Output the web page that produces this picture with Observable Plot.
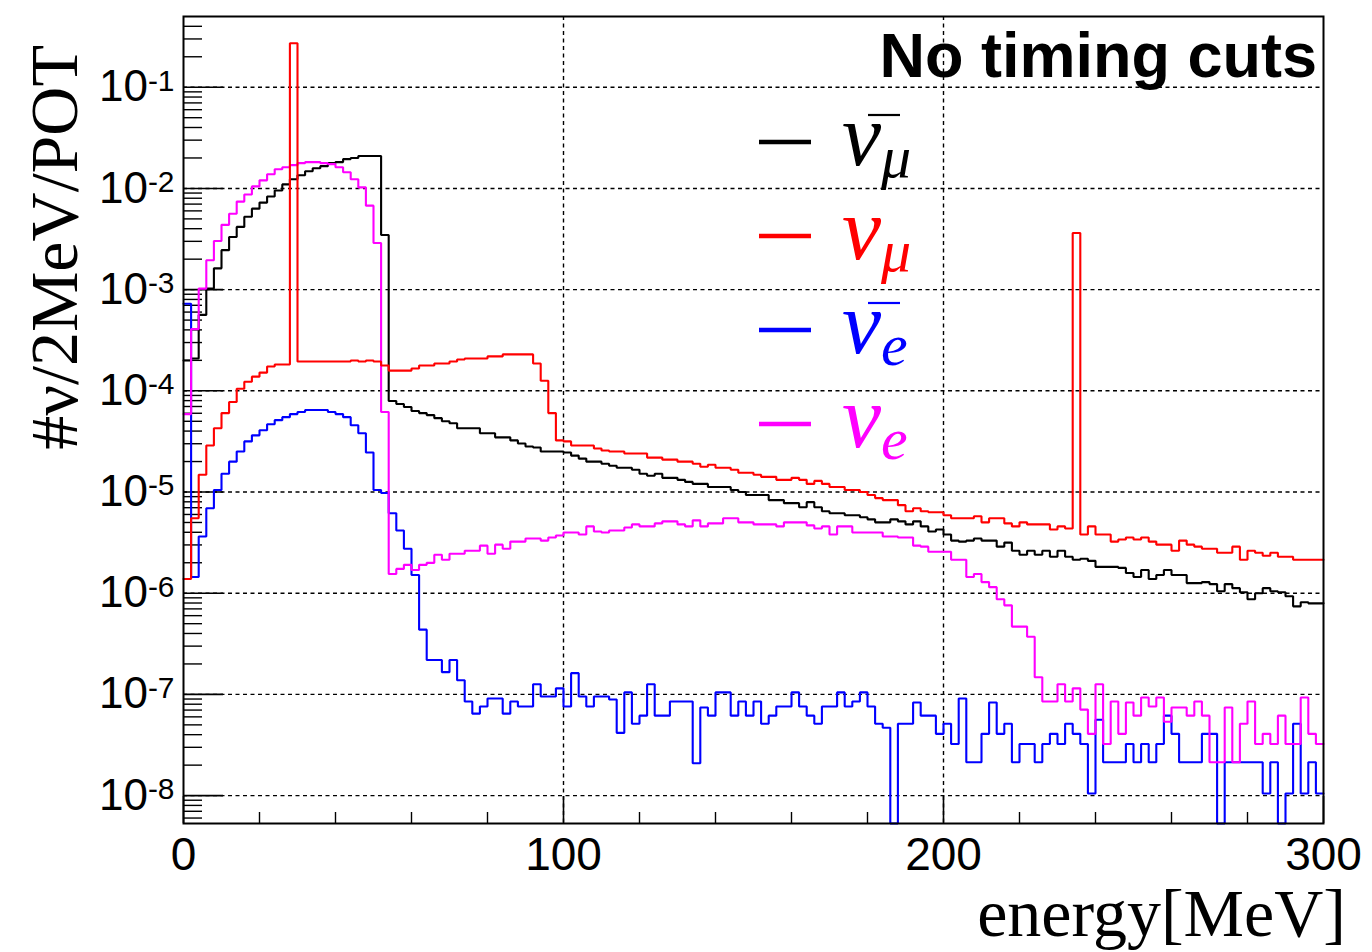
<!DOCTYPE html>
<html>
<head>
<meta charset="utf-8">
<script src="https://cdn.jsdelivr.net/npm/d3@7"></script>
<script src="https://cdn.jsdelivr.net/npm/@observablehq/plot@0.6"></script>
<style>
  html, body { margin: 0; padding: 0; background: #fff; }
  svg { display: block; }
</style>
</head>
<body>
<div id="chart"></div>
<script>
// ---- data: log10(#nu / 2 MeV / POT) per 2 MeV bin, 0–300 MeV (150 bins); null = empty bin
const binWidth = 2;
const seriesNames = ["antiNuMu", "nuMu", "antiNuE", "nuE"];
const seriesColors = ["#000000", "#ff0000", "#0000ff", "#ff00ff"];

const antiNuMuLog10 = [
  -3.70, -3.68, -3.25, -2.99, -2.79, -2.61, -2.48, -2.38, -2.28, -2.20,
  -2.14, -2.08, -2.02, -1.96, -1.91, -1.87, -1.83, -1.80, -1.78, -1.75,
  -1.74, -1.71, -1.70, -1.68, -1.68, -1.68, -2.46, -4.10, -4.13, -4.16,
  -4.20, -4.22, -4.24, -4.27, -4.30, -4.32, -4.37, -4.37, -4.37, -4.42,
  -4.42, -4.46, -4.46, -4.49, -4.52, -4.55, -4.56, -4.60, -4.60, -4.60,
  -4.61, -4.64, -4.67, -4.70, -4.70, -4.72, -4.74, -4.76, -4.76, -4.78,
  -4.82, -4.84, -4.82, -4.86, -4.86, -4.88, -4.90, -4.92, -4.92, -4.95,
  -4.95, -4.95, -4.98, -5.00, -5.03, -5.03, -5.03, -5.08, -5.08, -5.11,
  -5.11, -5.15, -5.10, -5.15, -5.19, -5.21, -5.21, -5.23, -5.23, -5.25,
  -5.27, -5.30, -5.30, -5.27, -5.29, -5.32, -5.29, -5.34, -5.39, -5.37,
  -5.42, -5.48, -5.49, -5.48, -5.46, -5.48, -5.48, -5.54, -5.50, -5.58,
  -5.62, -5.58, -5.62, -5.58, -5.64, -5.58, -5.64, -5.67, -5.66, -5.68,
  -5.74, -5.74, -5.74, -5.75, -5.80, -5.84, -5.77, -5.86, -5.82, -5.77,
  -5.82, -5.82, -5.90, -5.90, -5.89, -5.91, -5.98, -5.91, -5.95, -5.99,
  -6.06, -6.00, -5.95, -5.98, -5.99, -6.03, -6.13, -6.09, -6.10, -6.10
];

const nuMuLog10 = [
  -5.86, -5.26, -4.83, -4.54, -4.37, -4.22, -4.11, -3.98, -3.91, -3.86,
  -3.82, -3.76, -3.74, -3.74, -0.565, -3.71, -3.71, -3.71, -3.71, -3.71,
  -3.71, -3.71, -3.70, -3.71, -3.70, -3.71, -3.75, -3.80, -3.80, -3.80,
  -3.78, -3.75, -3.75, -3.73, -3.73, -3.71, -3.69, -3.68, -3.68, -3.68,
  -3.66, -3.66, -3.64, -3.64, -3.64, -3.64, -3.73, -3.90, -4.22, -4.49,
  -4.50, -4.54, -4.54, -4.54, -4.57, -4.59, -4.60, -4.60, -4.62, -4.62,
  -4.62, -4.66, -4.66, -4.68, -4.68, -4.70, -4.70, -4.72, -4.75, -4.73,
  -4.76, -4.76, -4.78, -4.81, -4.81, -4.83, -4.85, -4.85, -4.88, -4.88,
  -4.86, -4.88, -4.92, -4.89, -4.92, -4.95, -4.95, -4.98, -4.98, -5.00,
  -5.03, -5.06, -5.08, -5.08, -5.13, -5.19, -5.16, -5.19, -5.20, -5.20,
  -5.23, -5.26, -5.26, -5.26, -5.24, -5.30, -5.26, -5.26, -5.31, -5.34,
  -5.30, -5.32, -5.32, -5.32, -5.37, -5.34, -5.36, -2.44, -5.42, -5.34,
  -5.42, -5.42, -5.49, -5.47, -5.45, -5.47, -5.45, -5.49, -5.52, -5.52,
  -5.58, -5.48, -5.52, -5.54, -5.56, -5.56, -5.60, -5.60, -5.54, -5.67,
  -5.58, -5.60, -5.63, -5.60, -5.64, -5.64, -5.67, -5.67, -5.67, -5.67
];

const antiNuELog10 = [
  -3.14, -5.84, -5.44, -5.16, -4.98, -4.82, -4.70, -4.60, -4.50, -4.44,
  -4.39, -4.33, -4.29, -4.26, -4.23, -4.21, -4.19, -4.19, -4.19, -4.21,
  -4.23, -4.26, -4.34, -4.42, -4.61, -4.98, -5.01, -5.21, -5.38, -5.56,
  -5.82, -6.36, -6.66, -6.66, -6.78, -6.66, -6.86, -7.07, -7.19, -7.12,
  -7.04, -7.04, -7.19, -7.07, -7.12, -7.12, -6.90, -7.02, -7.02, -6.94,
  -7.12, -6.79, -7.02, -7.12, -7.02, -7.02, -7.05, -7.38, -6.98, -7.29,
  -7.21, -6.90, -7.21, -7.21, -7.07, -7.07, -7.07, -7.68, -7.13, -7.21,
  -6.98, -6.98, -7.21, -7.07, -7.21, -7.07, -7.29, -7.21, -7.12, -7.12,
  -6.98, -7.12, -7.21, -7.29, -7.12, -7.12, -6.98, -7.12, -7.07, -6.98,
  -7.12, -7.29, -7.33, null,  -7.29, -7.29, -7.08, -7.21, -7.21, -7.39,
  -7.29, -7.49, -7.04, -7.67, -7.67, -7.39, -7.08, -7.39, -7.29, -7.67,
  -7.49, -7.49, -7.67, -7.49, -7.39, -7.49, -7.29, -7.39, -7.49, -7.98,
  -7.25, -7.67, -7.67, -7.67, -7.49, -7.67, -7.49, -7.67, -7.49, -7.21,
  -7.39, -7.67, -7.67, -7.67, -7.39, -7.39, null,  -7.67, -7.67, -7.67,
  -7.67, -7.67, -7.98, -7.67, null,  -7.98, -7.29, -7.98, -7.67, -7.98
];

const nuELog10 = [
  -4.23, -3.39, -2.99, -2.71, -2.52, -2.36, -2.25, -2.13, -2.06, -1.98,
  -1.92, -1.86, -1.81, -1.79, -1.77, -1.75, -1.74, -1.74, -1.75, -1.76,
  -1.79, -1.84, -1.91, -1.99, -2.17, -2.54, -4.21, -5.81, -5.76, -5.72,
  -5.77, -5.72, -5.70, -5.62, -5.67, -5.61, -5.61, -5.58, -5.58, -5.53,
  -5.61, -5.52, -5.56, -5.49, -5.49, -5.46, -5.46, -5.48, -5.45, -5.43,
  -5.40, -5.40, -5.42, -5.34, -5.39, -5.40, -5.38, -5.38, -5.35, -5.32,
  -5.34, -5.34, -5.31, -5.29, -5.29, -5.32, -5.34, -5.28, -5.34, -5.31,
  -5.31, -5.26, -5.26, -5.30, -5.30, -5.32, -5.32, -5.32, -5.34, -5.30,
  -5.30, -5.30, -5.33, -5.36, -5.34, -5.42, -5.34, -5.34, -5.40, -5.40,
  -5.40, -5.40, -5.44, -5.44, -5.45, -5.45, -5.53, -5.54, -5.59, -5.59,
  -5.59, -5.67, -5.67, -5.84, -5.81, -5.89, -5.94, -6.06, -6.12, -6.33,
  -6.33, -6.43, -6.83, -7.07, -7.07, -6.90, -7.07, -6.94, -7.15, -7.39,
  -6.90, -7.49, -7.07, -7.39, -7.08, -7.21, -7.03, -7.12, -7.03, -7.27,
  -7.13, -7.13, -7.21, -7.07, -7.21, -7.67, -7.67, -7.13, -7.67, -7.29,
  -7.07, -7.49, -7.39, -7.49, -7.21, -7.49, -7.49, -7.03, -7.39, -7.49
];

// ---- axes
const xDomain = [0, 300];
const yDomain = [5.3e-9, 0.5];
const xTickLabels = [0, 100, 200, 300];
const xMinorTicks = [20, 40, 60, 80, 120, 140, 160, 180, 220, 240, 260, 280];
const yTickExponents = [-8, -7, -6, -5, -4, -3, -2, -1];
const xGrid = [100, 200];

// ---- layout
const W = 1372, H = 952;
const mL = 183, mR = 49, mT = 16, mB = 129;
const frameW = W - mL - mR, frameH = H - mT - mB;

const yDecades = yTickExponents.map(e => 10 ** e);
const yMinor = [];
for (let e = -9; e <= -1; e++) for (let k = 2; k <= 9; k++) {
  const v = k * 10 ** e;
  if (v > yDomain[0] && v < yDomain[1]) yMinor.push(v);
}

function steps(logs, name) {
  const pts = [];
  logs.forEach((L, i) => {
    const v = L == null ? yDomain[0] : 10 ** L;
    pts.push({series: name, energy: i * binWidth, value: v});
    pts.push({series: name, energy: (i + 1) * binWidth, value: v});
  });
  return pts;
}
const allLogs = [antiNuMuLog10, nuMuLog10, antiNuELog10, nuELog10];
const histData = allLogs.map((l, i) => steps(l, seriesNames[i]));

const gridStyle = {stroke: "#000", strokeWidth: 1.4, strokeDasharray: "4,3.5"};
const drawOrder = [0, 2, 3, 1];

const chart = Plot.plot({
  width: W, height: H,
  marginLeft: mL, marginRight: mR, marginTop: mT, marginBottom: mB,
  style: {fontFamily: "'Liberation Sans', Arial, sans-serif", background: "#fff", color: "#000"},
  x: {domain: xDomain, label: null},
  y: {type: "log", domain: yDomain, label: null, clamp: true},
  marks: [
    Plot.ruleY(yDecades, gridStyle),
    Plot.ruleX(xGrid, gridStyle),
    Plot.tickY(yDecades, {stroke: "#000", strokeWidth: 1.6, insetRight: frameW - 40}),
    Plot.tickY(yMinor, {stroke: "#000", strokeWidth: 1.4, insetRight: frameW - 19}),
    Plot.tickX(xTickLabels, {stroke: "#000", strokeWidth: 1.6, insetTop: frameH - 27}),
    Plot.tickX(xMinorTicks, {stroke: "#000", strokeWidth: 1.4, insetTop: frameH - 11}),
    ...drawOrder.map(i => Plot.line(histData[i], {
      x: "energy", y: "value", stroke: seriesColors[i], strokeWidth: 2.1,
      curve: "linear", strokeLinejoin: "miter"
    })),
    Plot.frame({stroke: "#000", strokeWidth: 2}),
    Plot.axisY({ticks: yDecades, tickSize: 0, tickPadding: 9, fontSize: 44,
      tickFormat: d => "10^" + Math.round(Math.log10(d))}),
    Plot.axisX({ticks: xTickLabels, tickSize: 0, tickPadding: 14, fontSize: 46,
      tickFormat: d => String(d)})
  ]
});

document.getElementById("chart").appendChild(chart);
const svg = d3.select(chart);

// superscripts on the log-axis labels
svg.selectAll("g[aria-label='y-axis tick label'] text").each(function () {
  const t = this.textContent;
  if (!t.includes("^")) return;
  const [base, exp] = t.split("^");
  const sel = d3.select(this);
  sel.text(base);
  sel.append("tspan").attr("dy", "-0.36em").attr("font-size", "0.68em").text(exp);
});

// axis titles
svg.append("text")
  .attr("transform", "translate(77,45) rotate(-90)")
  .attr("text-anchor", "end")
  .attr("font-family", "'Liberation Serif', 'Times New Roman', serif")
  .attr("font-size", 68)
  .attr("fill", "#000")
  .text("#ν/2MeV/POT");

svg.append("text")
  .attr("x", 1346).attr("y", 936)
  .attr("text-anchor", "end")
  .attr("font-family", "'Liberation Serif', 'Times New Roman', serif")
  .attr("font-size", 68)
  .attr("fill", "#000")
  .text("energy[MeV]");

svg.append("text")
  .attr("x", 1317).attr("y", 77)
  .attr("text-anchor", "end")
  .attr("font-family", "'Liberation Sans', Arial, sans-serif")
  .attr("font-weight", "bold")
  .attr("font-size", 63)
  .attr("fill", "#000")
  .text("No timing cuts");

// legend
const legendItems = [
  {color: seriesColors[0], sub: "μ", bar: true},
  {color: seriesColors[1], sub: "μ", bar: false},
  {color: seriesColors[2], sub: "e", bar: true},
  {color: seriesColors[3], sub: "e", bar: false}
];
const lg = svg.append("g").attr("class", "legend");
legendItems.forEach((it, i) => {
  const base = 165 + i * 94;
  lg.append("line")
    .attr("x1", 759).attr("x2", 811)
    .attr("y1", base - 23).attr("y2", base - 23)
    .attr("stroke", it.color).attr("stroke-width", 4.5);
  const t = lg.append("text")
    .attr("x", 842).attr("y", base)
    .attr("text-anchor", "start")
    .attr("font-family", "'Liberation Serif', 'Times New Roman', serif")
    .attr("font-style", "italic")
    .attr("font-size", 88)
    .attr("fill", it.color);
  t.append("tspan").text("ν");
  t.append("tspan").attr("dy", 12).attr("font-size", 60).text(it.sub);
  if (it.bar) {
    lg.append("line")
      .attr("x1", 868).attr("x2", 900)
      .attr("y1", base - 50).attr("y2", base - 50)
      .attr("stroke", it.color).attr("stroke-width", 2.2);
  }
});
</script>
</body>
</html>
